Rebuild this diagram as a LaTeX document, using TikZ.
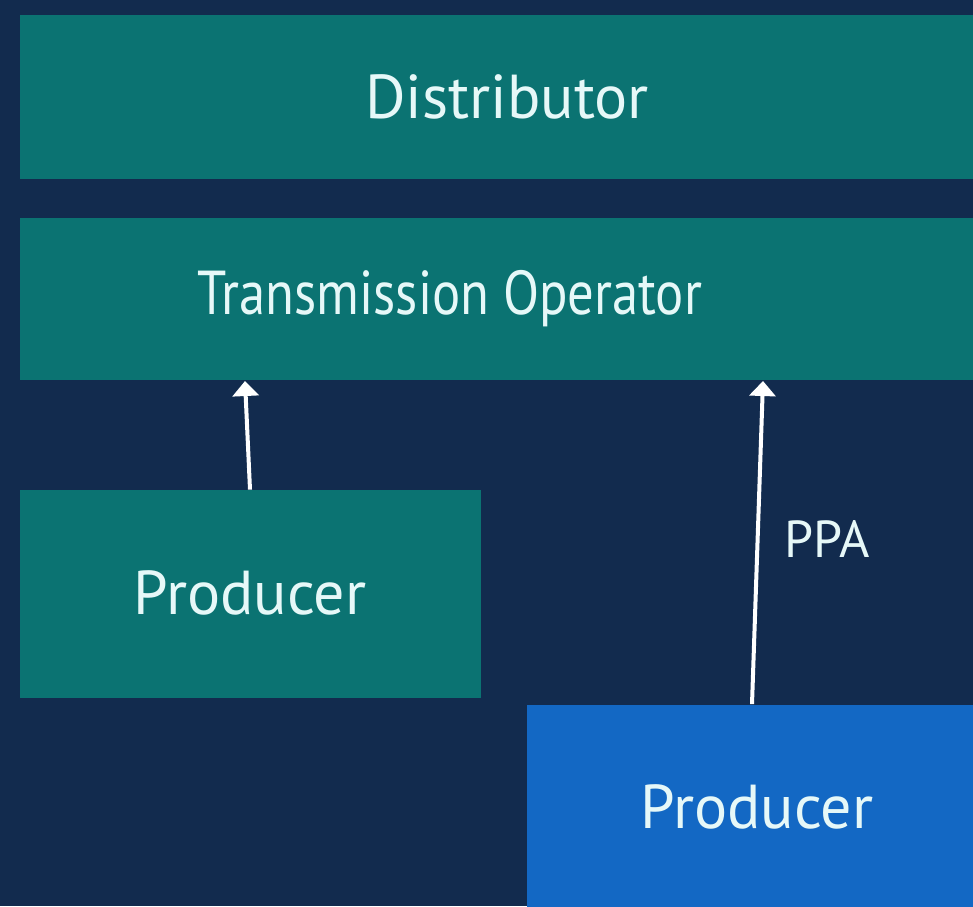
\documentclass[tikz,border=0pt]{standalone}
\usepackage{fontspec}
\setmainfont{PT Sans}
\usetikzlibrary{arrows.meta}
\definecolor{navy}{HTML}{122B4E}
\definecolor{teal}{HTML}{0B7372}
\definecolor{azure}{HTML}{1368C4}
\definecolor{ink}{HTML}{E6F8F8}
\tikzset{
  actor/.style={fill=teal, inner sep=0pt, text=ink, font=\fontsize{31}{37}\selectfont},
  link/.style={draw=white, line width=2pt, -{Triangle[width=13pt,length=7.5pt]}}
}
\begin{document}
\begin{tikzpicture}[x=0.5pt, y=-0.5pt]
    \fill[navy] (0, 0) rectangle (973, 906);
    \useasboundingbox (0, 0) rectangle (973, 906);
    % boxes
    \node[actor, minimum width=476.5pt, minimum height=82pt] (dist) at (496.5, 96.5) {};
    \node[actor, minimum width=476.5pt, minimum height=81pt] (trans) at (496.5, 299) {};
    \node[actor, minimum width=230.5pt, minimum height=104pt] (prodA) at (250.5, 594) {};
    \node[actor, fill=azure, minimum width=223pt, minimum height=101pt] (prodB) at (750, 805.5) {};
    % labels
    \node[actor, fill=none] (distlbl) at (507, 97) {Distributor};
    \node[actor, fill=none, xscale=0.85] (translbl) at (450, 299) {Transmission Operator};
    \node[actor, fill=none] (prodAlbl) at (250, 593) {Producer};
    \node[actor, fill=none] (prodBlbl) at (757, 807) {Producer};
    % contracts
    \coordinate (inA) at (245, 381);
    \coordinate (inB) at (763, 381);
    \draw[link] ([xshift=-0.25pt]prodA.north) -- (inA);
    \draw[link] ([xshift=1pt]prodB.north) -- (inB);
    \node[text=ink, font=\fontsize{26}{31}\selectfont] (ppa) at (827, 539) {PPA};
  \end{tikzpicture}
\end{document}
